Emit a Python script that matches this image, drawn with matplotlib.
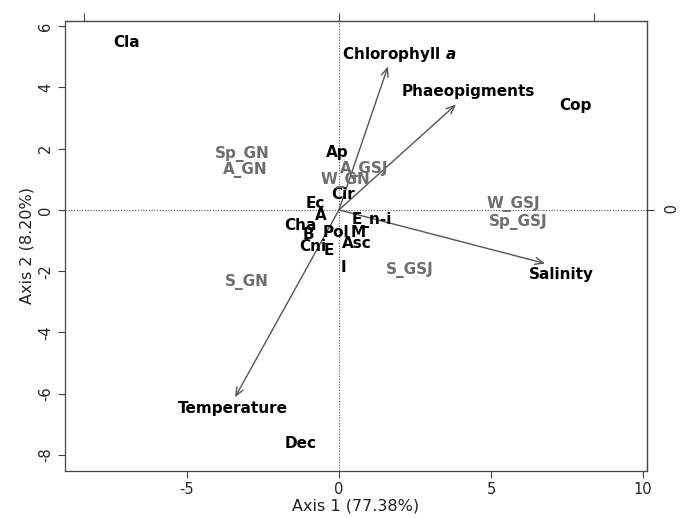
import matplotlib
matplotlib.use("Agg")
import matplotlib.pyplot as plt

plt.rcParams["mathtext.fontset"] = "custom"
plt.rcParams["mathtext.it"] = "DejaVu Sans:bold:italic"
plt.rcParams["mathtext.rm"] = "DejaVu Sans:bold"

# Sites (gray labels)
site_labels = ["Sp_GN", "A_GN", "A_GSJ", "W_GN", "W_GSJ", "Sp_GSJ", "S_GSJ", "S_GN"]
site_x = [-3.19, -3.09, 0.82, 0.20, 5.72, 5.89, 2.34, -3.03]
site_y = [1.81, 1.29, 1.35, 0.96, 0.18, -0.41, -1.97, -2.37]

# Taxa (black labels)
taxa_labels = ["Cla", "Cop", "Ap", "Cir", "Ec", "A", "E_n-i", "Cha", "B", "Pol", "M",
               "Cni", "Asc", "E", "I", "Dec"]
taxa_x = [-6.97, 7.77, -0.07, 0.13, -0.79, -0.59, 1.09, -1.28, -1.02, -0.10, 0.63,
          -0.86, 0.59, -0.33, 0.16, -1.25]
taxa_y = [5.47, 3.41, 1.88, 0.51, 0.21, -0.18, -0.34, -0.51, -0.80, -0.73, -0.73,
          -1.19, -1.09, -1.32, -1.88, -7.62]

# Environmental variables (arrows)
env_labels = ["Chlorophyll $a$", "Phaeopigments", "Salinity", "Temperature"]
env_x = [1.61, 3.85, 6.78, -3.42]
env_y = [4.68, 3.44, -1.75, -6.12]
env_lab_x = [1.99, 4.24, 7.30, -3.49]
env_lab_y = [5.08, 3.87, -2.10, -6.48]

x_ticks = [-5, 0, 5, 10]
y_ticks = [-8, -6, -4, -2, 0, 2, 4, 6]

FS = 11

fig = plt.figure(figsize=(6.82, 5.18), dpi=100)
ax = fig.add_axes([0.0953, 0.0915, 0.8534, 0.8689])
ax.set_xlim(-9.01, 10.13)
ax.set_ylim(-8.51, 6.18)

ax.axhline(0, color="#555555", lw=0.8, ls=(0, (1, 1.5)), zorder=1)
ax.axvline(0, color="#555555", lw=0.8, ls=(0, (1, 1.5)), zorder=1)

for ex, ey in zip(env_x, env_y):
    ax.annotate("", xy=(ex, ey), xytext=(0, 0),
                arrowprops=dict(arrowstyle="->,head_length=0.6,head_width=0.25",
                                color="#555555", lw=1.0, shrinkA=0, shrinkB=0))

for lab, lx, ly in zip(env_labels, env_lab_x, env_lab_y):
    ax.text(lx, ly, lab, ha="center", va="center", fontsize=FS, fontweight="bold",
            color="black")

for lab, lx, ly in zip(taxa_labels, taxa_x, taxa_y):
    ax.text(lx, ly, lab, ha="center", va="center", fontsize=FS, fontweight="bold",
            color="black")

for lab, lx, ly in zip(site_labels, site_x, site_y):
    ax.text(lx, ly, lab, ha="center", va="center", fontsize=FS, fontweight="bold",
            color="#6e6e6e")

ax.set_xticks(x_ticks)
ax.set_yticks(y_ticks)
ax.set_xticklabels([str(t) for t in x_ticks])
ax.set_yticklabels([str(t) for t in y_ticks], rotation=90, va="center")
ax.tick_params(axis="both", labelsize=10.5, color="#444444", labelcolor="#222222", length=5)
ax.set_xlabel("Axis 1 (77.38%)", fontsize=11.5, color="#222222", labelpad=1)
ax.set_ylabel("Axis 2 (8.20%)", fontsize=11.5, color="#222222", labelpad=3)

for s in ax.spines.values():
    s.set_color("#444444")
    s.set_linewidth(0.9)

# Secondary (loadings) axes: top and right
top = ax.secondary_xaxis("top")
top.set_xticks([-8.4, 0, 8.4])
top.set_xticklabels(["", "", ""])
top.tick_params(color="#444444", length=6)
right = ax.secondary_yaxis("right")
right.set_yticks([0])
right.set_yticklabels(["0"], rotation=-90, va="center")
right.tick_params(color="#444444", labelcolor="#222222", labelsize=10.5, length=5)

fig.savefig("out.png", dpi=100)
